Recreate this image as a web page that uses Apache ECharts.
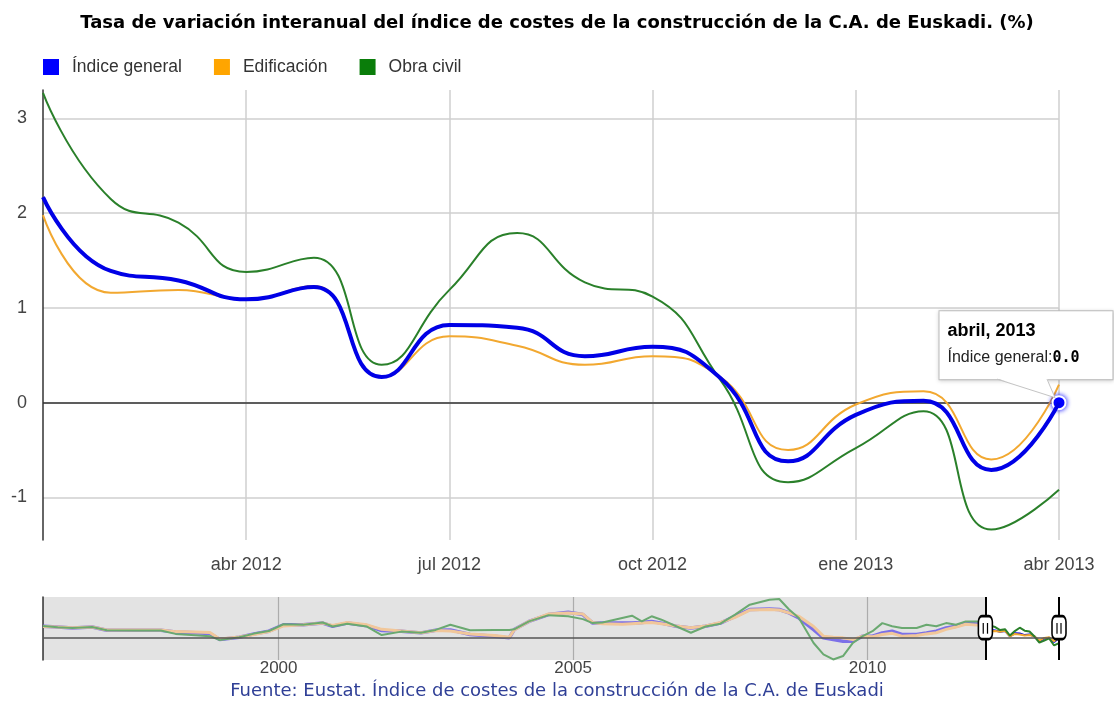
<!DOCTYPE html>
<html><head><meta charset="utf-8">
<script src="https://cdn.jsdelivr.net/npm/echarts@6/dist/echarts.min.js"></script>
<style>html,body{margin:0;padding:0;background:#fff}#c{width:1114px;height:704px}</style>
</head><body><div id="c"></div>
<script>
// ---- Main chart data (monthly, ene 2012 - abr 2013) ----
const months = ['ene 2012','feb 2012','mar 2012','abr 2012','may 2012','jun 2012','jul 2012','ago 2012','sep 2012','oct 2012','nov 2012','dic 2012','ene 2013','feb 2013','mar 2013','abr 2013'];
const monthsIso = ['2012-01','2012-02','2012-03','2012-04','2012-05','2012-06','2012-07','2012-08','2012-09','2012-10','2012-11','2012-12','2013-01','2013-02','2013-03','2013-04'];
const indiceGeneral = [2.17, 1.39, 1.29, 1.09, 1.22, 0.27, 0.82, 0.79, 0.49, 0.59, 0.26, -0.62, -0.13, 0.02, -0.71, 0.0];
const edificacion   = [1.98, 1.16, 1.19, 1.09, 1.23, 0.27, 0.70, 0.60, 0.40, 0.49, 0.27, -0.50, -0.02, 0.12, -0.60, 0.19];
const obraCivil     = [3.27, 2.15, 1.90, 1.38, 1.53, 0.40, 1.19, 1.79, 1.27, 1.12, 0.24, -0.84, -0.48, -0.09, -1.34, -0.92];

// ---- Overview (navigator) data, 1996 - 2011 ----
const ovDates = ['1996-01','1996-04','1996-07','1996-11','1997-02','1997-08','1998-01','1998-04','1998-08','1998-11','1999-01','1999-05','1999-08','1999-11','2000-02','2000-06','2000-10','2000-12','2001-03','2001-07','2001-10','2002-02','2002-06','2002-09','2002-12','2003-04','2003-09','2003-12','2004-01','2004-04','2004-08','2004-12','2005-03','2005-05','2005-07','2005-11','2006-01','2006-03','2006-05','2006-07','2006-10','2007-01','2007-04','2007-07','2007-10','2008-01','2008-05','2008-07','2008-09','2008-11','2009-02','2009-04','2009-06','2009-08','2009-10','2009-12','2010-02','2010-04','2010-06','2010-08','2010-11','2011-01','2011-03','2011-05','2011-07','2011-09','2011-12'];
const ovGeneral = [2.05,1.9,1.75,1.9,1.35,1.35,1.35,1.05,0.88,0.76,-0.3,0.1,0.7,1.17,2.3,2.3,2.6,2.05,2.6,2.15,1.3,1.17,0.88,1.35,1.4,0.6,0.3,0.0,1.46,2.9,4.1,4.5,4.1,2.6,2.6,2.6,2.6,2.7,2.9,2.6,2.05,1.75,2.05,2.6,3.8,5.0,5.1,5.0,4.4,3.5,1.46,0.0,-0.3,-0.6,-0.6,0.3,0.3,0.88,1.17,0.6,0.6,0.88,1.17,1.75,2.05,2.6,2.4];
const ovEdif    = [2.0,1.9,1.8,1.9,1.4,1.4,1.4,1.1,1.05,0.95,-0.2,0.15,0.6,1.1,2.1,2.3,2.6,2.2,2.7,2.3,1.5,1.2,0.9,1.3,1.2,0.7,0.4,0.1,1.4,2.9,4.2,4.4,4.2,2.7,2.5,2.4,2.5,2.6,2.7,2.5,2.1,1.8,2.1,2.7,3.6,4.9,5.0,4.9,4.4,3.8,2.0,0.3,0.1,0.0,-0.3,0.3,0.2,0.6,0.8,0.3,0.4,0.7,0.9,1.5,1.9,2.4,2.2];
const ovObra    = [2.1,1.85,1.75,1.9,1.35,1.3,1.3,0.7,0.47,0.3,-0.4,0.1,0.75,1.2,2.4,2.3,2.7,2.0,2.5,2.0,0.5,1.1,0.9,1.4,2.3,1.35,1.4,1.4,1.5,2.9,4.0,3.8,3.3,2.6,2.7,3.5,3.9,2.9,3.8,3.2,2.05,0.9,2.0,2.5,4.1,5.85,6.7,6.85,5.0,3.5,-0.9,-2.9,-3.8,-3.2,-0.9,0.3,1.17,2.6,2.05,1.75,1.75,2.3,2.05,2.6,2.3,2.9,2.9];
const ovTickYears = ['2000','2005','2010'];

const seriesNames = ['Índice general','Edificación','Obra civil'];
const legendColors = ['#0000ff','#ffa500','#0a7d0a'];
const lineColors = ['#0000e6','#f2a830','#2a802a'];
const fadedColors = ['#7c70e8','#f1c79a','#6aa970'];

// overview monthly categories
const ovCats = [];
for (let y = 1996; y <= 2013; y++) for (let m = 1; m <= 12; m++) {
  if (y === 2013 && m > 4) break;
  ovCats.push(y + '-' + String(m).padStart(2, '0'));
}
function toFull(dates, vals) {
  const map = {};
  dates.forEach((d, i) => { map[d] = vals[i]; });
  return ovCats.map(c => (c in map ? map[c] : null));
}
const histDates = ovDates.concat([monthsIso[0]]);
const fadedData = [
  toFull(histDates, ovGeneral.concat([indiceGeneral[0]])),
  toFull(histDates, ovEdif.concat([edificacion[0]])),
  toFull(histDates, ovObra.concat([obraCivil[0]]))
];
const recentData = [
  toFull(monthsIso, indiceGeneral),
  toFull(monthsIso, edificacion),
  toFull(monthsIso, obraCivil)
];

const chart = echarts.init(document.getElementById('c'), null, {renderer: 'canvas'});
const quarterFn = (i) => i % 3 === 0 && i > 0;
const yearFn = (i) => { const c = ovCats[i]; return c.endsWith('-01') && ovTickYears.includes(c.slice(0, 4)); };
const mainWidths = [4, 2, 2];
const lastIdx = months.length - 1;

const series = [];
// main series: draw orange and green first, then blue on top
[1, 2, 0].forEach(k => {
  const vals = [indiceGeneral, edificacion, obraCivil][k];
  const s = {
    name: seriesNames[k], type: 'line', xAxisIndex: 0, yAxisIndex: 0,
    data: vals, smooth: 0.5, symbol: 'none', showSymbol: false,
    itemStyle: {color: legendColors[k]},
    lineStyle: {color: lineColors[k], width: mainWidths[k]},
    z: k === 0 ? 5 : 3, silent: true
  };
  if (k === 0) {
    s.markLine = {
      silent: true, symbol: 'none', animation: false,
      lineStyle: {color: '#333', width: 1.5, type: 'solid'},
      label: {show: false}, data: [{yAxis: 0}], z: 1
    };
    s.markPoint = {
      silent: true, animation: false,
      symbol: 'circle', symbolSize: 13,
      itemStyle: {color: '#0000ff', borderColor: '#fff', borderWidth: 2, shadowColor: 'rgba(0,0,255,0.9)', shadowBlur: 5},
      label: {
        show: true, position: [-112, -84],
        formatter: '{t|abril, 2013}\n{n|Índice general:}{v|' + indiceGeneral[lastIdx].toFixed(1) + '}',
        backgroundColor: '#fff', borderColor: '#c4c4c4', borderWidth: 1,
        shadowColor: 'rgba(0,0,0,0.15)', shadowBlur: 4, shadowOffsetY: 1,
        padding: [6, 8, 6, 8], width: 157, height: 56, align: 'left', verticalAlign: 'top',
        rich: {
          t: {fontFamily: 'Liberation Sans', fontWeight: 'bold', fontSize: 18, color: '#000', lineHeight: 27},
          n: {fontFamily: 'Liberation Sans', fontSize: 16, color: '#222', lineHeight: 27},
          v: {fontFamily: 'DejaVu Sans Mono', fontWeight: 'bold', fontSize: 15, color: '#000', lineHeight: 27}
        }
      },
      data: [{coord: [months[lastIdx], indiceGeneral[lastIdx]]}]
    };
  }
  series.push(s);
});
// overview faded series
[0, 1, 2].forEach(k => {
  const s = {
    name: 'ov' + k, type: 'line', xAxisIndex: 1, yAxisIndex: 1,
    data: fadedData[k], connectNulls: true, symbol: 'none', showSymbol: false,
    lineStyle: {color: fadedColors[k], width: [3.5, 3, 2][k]}, silent: true, z: 3
  };
  if (k === 0) {
    s.markArea = {
      silent: true, animation: false,
      itemStyle: {color: 'rgba(0,0,0,0.11)'},
      data: [[{xAxis: ovCats[0]}, {xAxis: monthsIso[0]}]]
    };
    s.markLine = {
      silent: true, symbol: 'none', animation: false, label: {show: false},
      lineStyle: {color: '#555', width: 1.5, type: 'solid'},
      data: [{yAxis: 0}]
    };
  }
  series.push(s);
});
// overview recent series
[0, 1, 2].forEach(k => {
  series.push({
    name: 'ovr' + k, type: 'line', xAxisIndex: 1, yAxisIndex: 1,
    data: recentData[k], connectNulls: true, symbol: 'none', showSymbol: false,
    lineStyle: {color: lineColors[k], width: 2}, silent: true, z: 3
  });
});
// handles
series.push({
  name: 'handles', type: 'line', xAxisIndex: 1, yAxisIndex: 1, data: [], silent: true, z: 10,
  markLine: {
    silent: true, symbol: 'none', animation: false, label: {show: false},
    lineStyle: {color: '#000', width: 2, type: 'solid'},
    data: [{xAxis: monthsIso[0]}, {xAxis: monthsIso[lastIdx]}]
  },
  markPoint: {
    silent: true, animation: false, symbol: 'roundRect', symbolSize: [14, 23],
    itemStyle: {color: '#fff', borderColor: '#000', borderWidth: 2},
    label: {show: true, formatter: '||', color: '#000', fontSize: 11, fontWeight: 'bold', fontFamily: 'DejaVu Sans'},
    data: [{coord: [monthsIso[0], 1.8]}, {coord: [monthsIso[lastIdx], 1.8]}]
  }
});

chart.setOption({
  animation: false,
  backgroundColor: '#fff',
  title: [
    {text: 'Tasa de variación interanual del índice de costes de la construcción de la C.A. de Euskadi. (%)',
     left: 'center', top: 9,
     textStyle: {fontFamily: 'DejaVu Sans', fontWeight: 'bold', fontSize: 18, color: '#000'}},
    {text: 'Fuente: Eustat. Índice de costes de la construcción de la C.A. de Euskadi',
     left: 'center', top: 677,
     textStyle: {fontFamily: 'DejaVu Sans', fontWeight: 'normal', fontSize: 18, color: '#2f3f96'}}
  ],
  legend: {
    data: seriesNames, left: 38, top: 53, icon: 'rect', itemWidth: 16, itemHeight: 16, itemGap: 32,
    selectedMode: false,
    textStyle: {fontFamily: 'Liberation Sans', fontSize: 17.5, color: '#333', padding: [0, 0, 0, 8]}
  },
  grid: [
    {left: 43, right: 55, top: 90, bottom: 164},
    {left: 43, right: 55, top: 597, height: 63}
  ],
  xAxis: [
    {type: 'category', gridIndex: 0, data: months, boundaryGap: false,
     axisLine: {show: false}, axisTick: {show: false},
     axisLabel: {interval: quarterFn, margin: 16, fontFamily: 'Liberation Sans', fontSize: 18, color: '#444'},
     splitLine: {show: true, interval: quarterFn, lineStyle: {color: '#cfcfcf', width: 1.5}}},
    {type: 'category', gridIndex: 1, data: ovCats, boundaryGap: false,
     axisLine: {show: false}, axisTick: {show: false},
     axisLabel: {interval: yearFn, formatter: v => v.slice(0, 4), margin: 0, fontFamily: 'Liberation Sans', fontSize: 17, color: '#444'},
     splitLine: {show: true, interval: yearFn, lineStyle: {color: '#c2c2c2', width: 1.2}}}
  ],
  yAxis: [
    {type: 'value', gridIndex: 0, min: -1.45, max: 3.3, splitNumber: 5,
     axisLine: {show: true, lineStyle: {color: '#333', width: 1.5}}, axisTick: {show: false},
     axisLabel: {showMinLabel: false, showMaxLabel: false, margin: 16,
       formatter: v => (Number.isInteger(v) ? String(v) : ''),
       fontFamily: 'Liberation Sans', fontSize: 18, color: '#444'},
     splitLine: {show: true, showMinLine: false, showMaxLine: false, lineStyle: {color: '#cfcfcf', width: 1.5}}},
    {type: 'value', gridIndex: 1, min: -3.9, max: 7.2,
     axisLine: {show: true, lineStyle: {color: '#333', width: 1.5}}, axisTick: {show: false},
     axisLabel: {show: false}, splitLine: {show: false}}
  ],
  series: series
});

// callout pointer for the annotation box
const p = chart.convertToPixel({xAxisIndex: 0, yAxisIndex: 0}, [months[lastIdx], indiceGeneral[lastIdx]]);
chart.setOption({
  graphic: [
    {type: 'polygon', z: 100, silent: true,
     shape: {points: [[p[0] - 62, p[1] - 24.5], [p[0] - 12, p[1] - 24.5], [p[0] - 4, p[1] - 5]]},
     style: {fill: '#fff'}},
    {type: 'polyline', z: 101, silent: true,
     shape: {points: [[p[0] - 62, p[1] - 23.5], [p[0] - 4, p[1] - 5], [p[0] - 12, p[1] - 23.5]]},
     style: {stroke: '#c4c4c4', lineWidth: 1, fill: null}}
  ]
});
</script></body></html>
